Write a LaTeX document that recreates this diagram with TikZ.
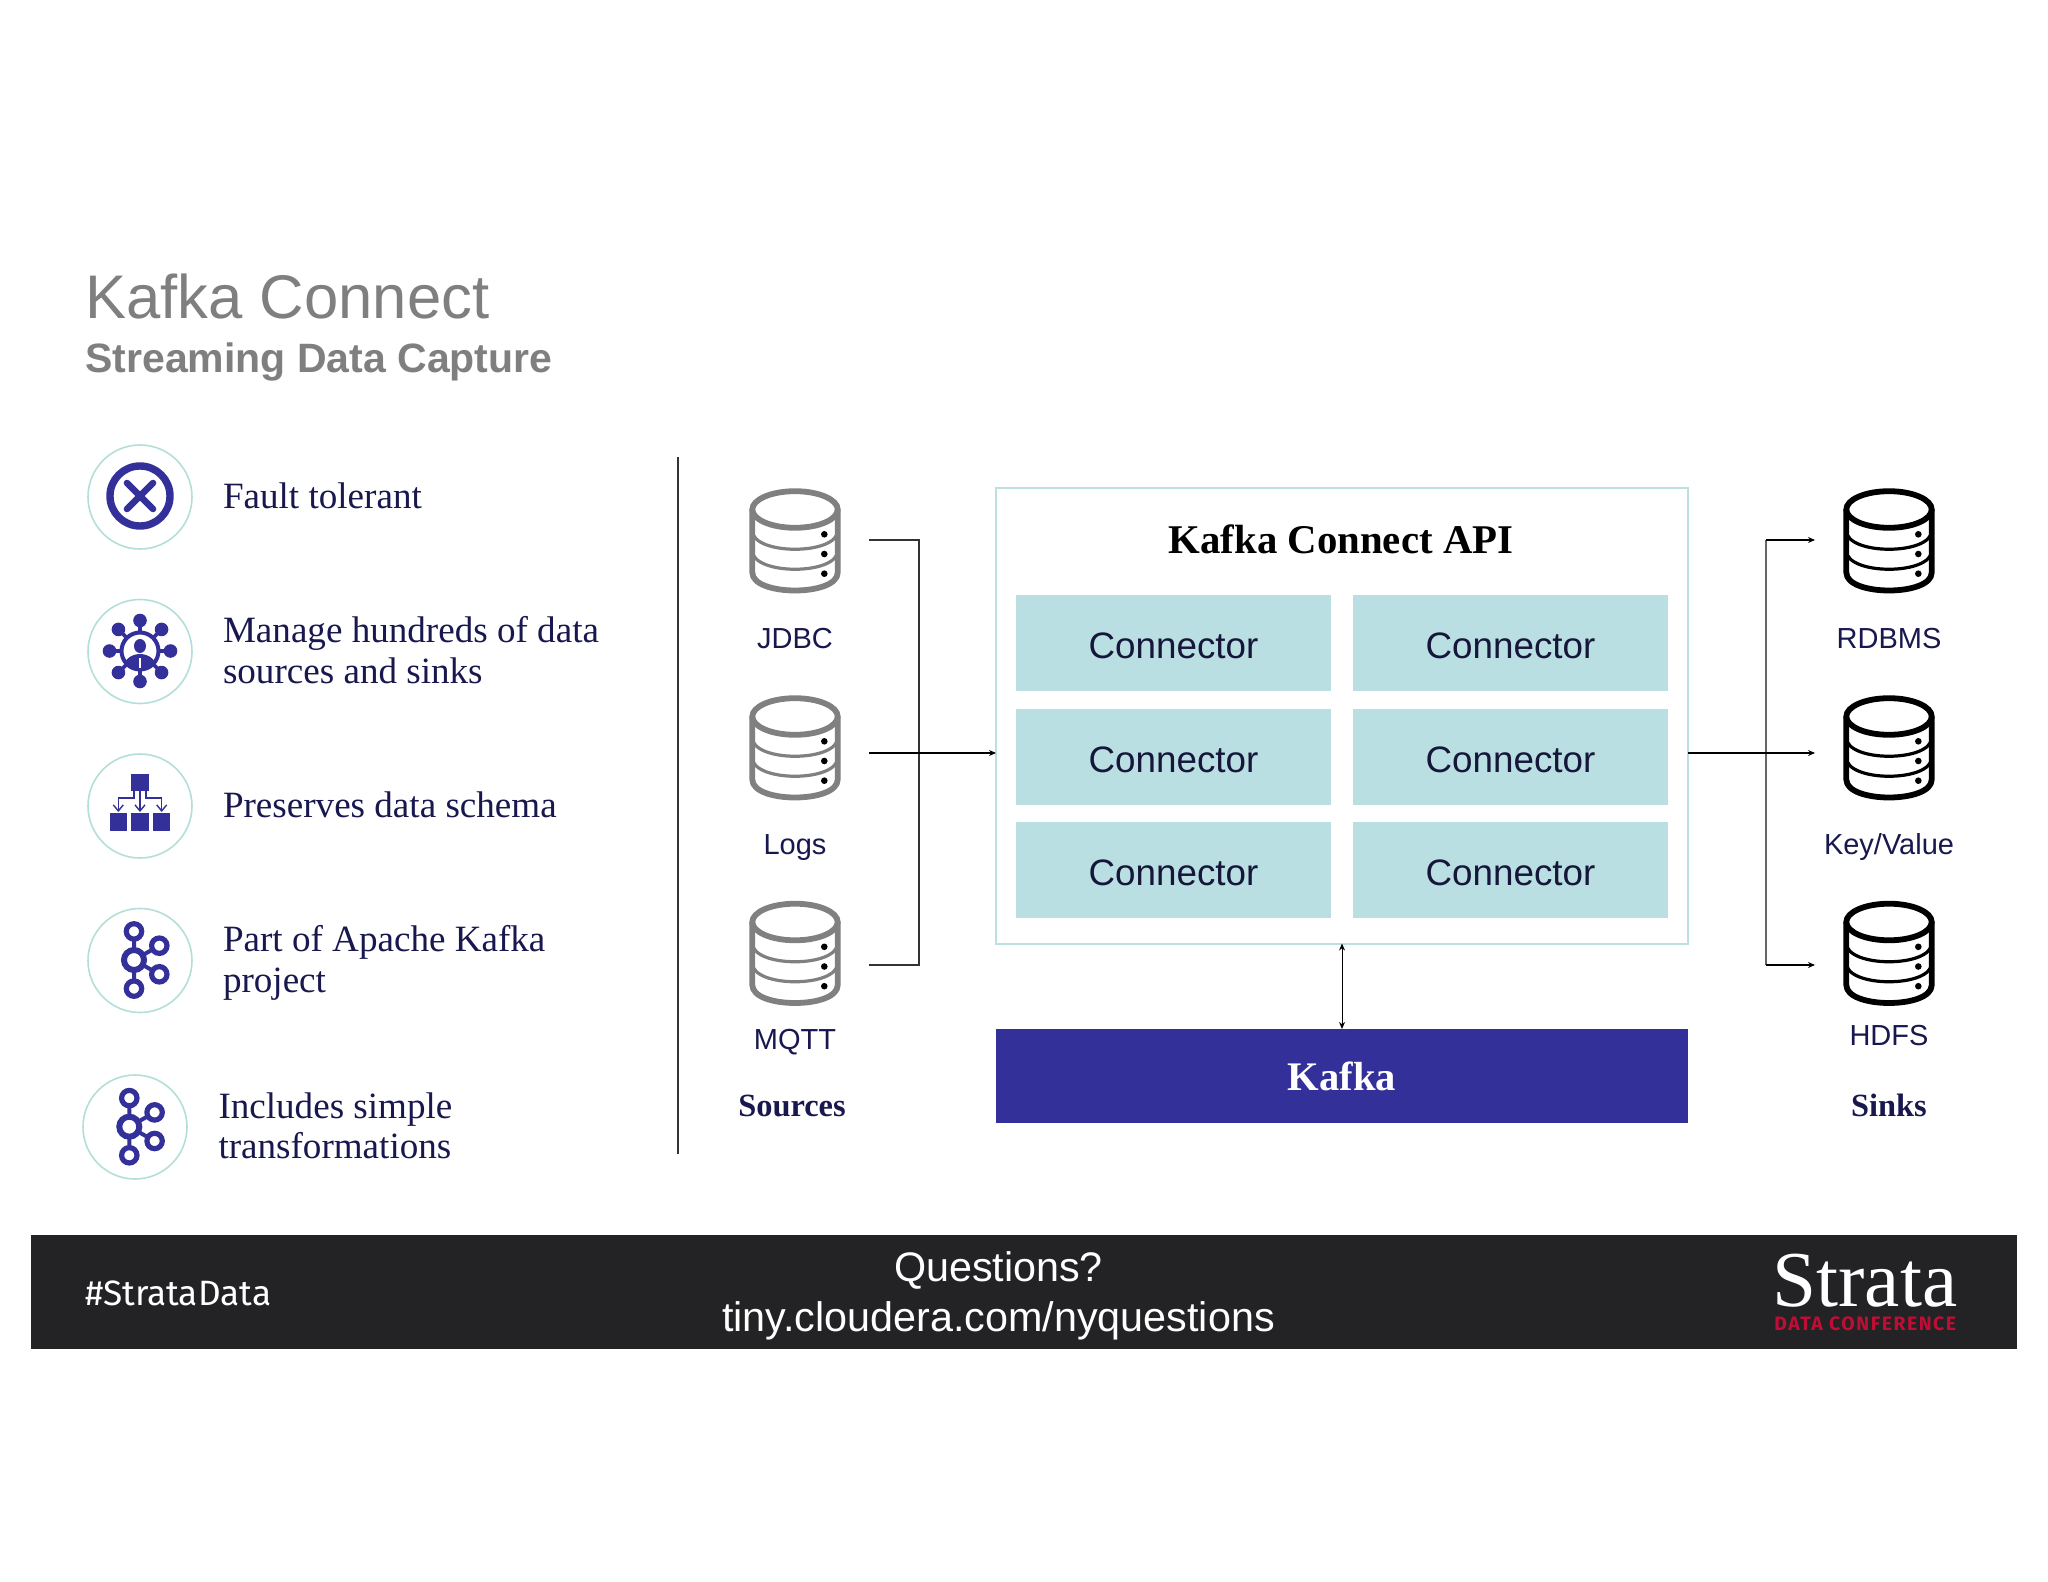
\documentclass[tikz,border=0pt]{standalone}
\usepackage{fontspec}
\setmainfont{Liberation Serif}
\setsansfont{Liberation Sans}
\newfontfamily\firafont{Fira Sans}
\usetikzlibrary{arrows.meta}
\definecolor{titlegray}{HTML}{7F7F7F}
\definecolor{ink}{HTML}{18184F}
\definecolor{cellink}{HTML}{16163A}
\definecolor{indigo}{HTML}{34309A}
\definecolor{teal}{HTML}{BADFE2}
\definecolor{tealline}{HTML}{B4DFD9}
\definecolor{apiline}{HTML}{BCE0E0}
\definecolor{dbgray}{HTML}{808080}
\definecolor{barblack}{HTML}{232325}
\definecolor{logored}{HTML}{C00D35}
\definecolor{wire}{HTML}{333333}
\definecolor{wiregray}{HTML}{666666}
\tikzset{
  x=.5pt,y=-.5pt,
  feature/.style={anchor=west,inner sep=0,outer sep=0,align=left,text=ink,font=\rmfamily\fontsize{18.55}{20.3}\selectfont},
  badge/.style={circle,draw=tealline,line width=.8pt,minimum size=52pt,inner sep=0,outer sep=0,fill=white},
  cell/.style={fill=teal,minimum width=157.5pt,minimum height=48pt,inner sep=0,outer sep=0,text height=15.2pt,text depth=0pt,text=cellink,font=\sffamily\fontsize{18.4}{20}\selectfont},
  dblabel/.style={inner sep=0,outer sep=0,text=ink,font=\sffamily\fontsize{14.5}{16}\selectfont},
  grouplabel/.style={inner sep=0,outer sep=0,text=ink,font=\rmfamily\bfseries\fontsize{16.2}{18}\selectfont},
  wireline/.style={draw=wire,line width=.55pt},
  wirearrow/.style={draw=black,line width=.55pt,-{Stealth[length=3.5pt,width=3pt]}},
  pics/db/.style={code={
    \draw[#1,line width=2.9pt] (-42.7,0) ellipse [x radius=42.7,y radius=18.3];
    \draw[#1,line width=2.9pt,line join=round] (-85.4,0) -- (-85.4,63) .. controls (-85.4,87) and (0,87) .. (0,63) -- (0,0);
    \draw[#1,line width=1.6pt] (-85.4,21) .. controls (-85.4,46) and (0,46) .. (0,21);
    \draw[#1,line width=1.6pt] (-85.4,41) .. controls (-85.4,66) and (0,66) .. (0,41);
    \fill[black] (-13.4,24.8) circle (3.3) (-13.4,44.5) circle (3.3) (-13.4,64.2) circle (3.3);
  }},
  pics/kafkaicon/.style={code={
    \draw[indigo,line width=3pt] (0,0) circle (10);
    \draw[indigo,line width=2.6pt] (0,-28.6) circle (7.7) (0,28.6) circle (7.7) (25.3,-14.3) circle (7.7) (25.3,14.3) circle (7.7);
    \draw[indigo,line width=2pt] (0,-20.7) -- (0,-12) (0,20.7) -- (0,12) (9.5,-5.4) -- (18.5,-10.4) (9.5,5.4) -- (18.5,10.4);
  }}
}
\begin{document}
\begin{tikzpicture}
\useasboundingbox[fill=white] (0,0) rectangle (2048,1582);

% Heading
\node[anchor=base west,inner sep=0,text=titlegray,font=\sffamily\fontsize{30.8}{32}\selectfont] (title) at (85,319) {Kafka Connect};
\node[anchor=base west,inner sep=0,text=titlegray,font=\sffamily\bfseries\fontsize{20.5}{23}\selectfont] (subtitle) at (85,372.5) {Streaming Data Capture};

% Feature list
\node[badge] (b1) at (140,497) {};
\node[badge] (b2) at (140,651.5) {};
\node[badge] (b3) at (140,806) {};
\node[badge] (b4) at (140,960.5) {};
\node[badge] (b5) at (135,1127) {};
\node[feature] (f1) at (223,496) {Fault tolerant};
\node[feature] (f2) at (223,650) {Manage hundreds of data\\sources and sinks};
\node[feature] (f3) at (223,805) {Preserves data schema};
\node[feature] (f4) at (223,963) {Part of Apache Kafka\\project};
\node[feature] (f5) at (218.5,1126) {Includes simple\\transformations};

% Icon 1
\draw[indigo,line width=3.7pt] (140,496) circle (30);
\draw[indigo,line width=3.3pt,line cap=round] (127,483) -- (153,509) (153,483) -- (127,509);

% Icon 2
\begin{scope}[shift={(140,651)}]
  \draw[indigo,line width=2pt] (0,0) circle (18.5);
  \foreach \a in {0,45,...,315} {
    \draw[indigo,line width=1.8pt] (\a:18) -- (\a:30.5);
    \fill[indigo] (\a:30.5) circle (6.8);
  }
  \fill[indigo] (0,-5) ellipse [x radius=6,y radius=7];
  \begin{scope}
    \clip (0,0) circle (18);
    \fill[indigo] (0,20) ellipse [x radius=18,y radius=17];
  \end{scope}
  \draw[white,line width=.8pt] (0,7) -- (0,17);
\end{scope}

% Icon 3
\fill[indigo] (131.3,774) rectangle (148.7,791.3);
\fill[indigo] (109.7,813.3) rectangle (127,830.7);
\fill[indigo] (131.3,813.3) rectangle (148.7,830.7);
\fill[indigo] (152.7,813.3) rectangle (170,830.7);
\draw[indigo,line width=.7pt,-{Straight Barb[length=3pt,width=5pt]}] (140,791) -- (140,812);
\draw[indigo,line width=.7pt,-{Straight Barb[length=3pt,width=5pt]}] (134,791) -- (134,798) -- (118.3,798) -- (118.3,812);
\draw[indigo,line width=.7pt,-{Straight Barb[length=3pt,width=5pt]}] (146,791) -- (146,798) -- (161.7,798) -- (161.7,812);

% Icons 4 and 5
\pic at (134,960) {kafkaicon};
\pic at (129.3,1126.7) {kafkaicon};

% Divider
\coordinate (divTop) at (678,457);
\coordinate (divBot) at (678,1154);
\draw[draw=wire,line width=.55pt] (divTop) -- (divBot);

% Databases
\pic at (837.7,509.5) {db=dbgray};
\pic at (837.7,716.5) {db=dbgray};
\pic at (837.7,922) {db=dbgray};
\pic at (1931.7,509.5) {db=black};
\pic at (1931.7,716.5) {db=black};
\pic at (1931.7,922) {db=black};

\node[dblabel] (jdbc) at (795,639) {JDBC};
\node[dblabel] (logs) at (795,847.5) {Logs};
\node[dblabel] (mqtt) at (795,1042) {MQTT};
\node[dblabel] (rdbms) at (1889,639) {RDBMS};
\node[dblabel] (kv) at (1889,847) {Key/Value};
\node[dblabel] (hdfs) at (1889,1036) {HDFS};
\node[grouplabel] (sources) at (792,1106) {Sources};
\node[grouplabel] (sinks) at (1889,1105) {Sinks};

% API box
\node[draw=apiline,line width=1pt,minimum width=346pt,minimum height=227.5pt,inner sep=0,outer sep=0] (api) at (1342,716) {};
\node[inner sep=0,text=black,font=\rmfamily\bfseries\fontsize{20.4}{23}\selectfont] (apititle) at (1341,539) {Kafka Connect API};
\node[cell] (c1) at (1173.5,643) {Connector};
\node[cell] (c2) at (1510.5,643) {Connector};
\node[cell] (c3) at (1173.5,757) {Connector};
\node[cell] (c4) at (1510.5,757) {Connector};
\node[cell] (c5) at (1173.5,870) {Connector};
\node[cell] (c6) at (1510.5,870) {Connector};
\node[fill=indigo,minimum width=346pt,minimum height=47pt,inner sep=0,outer sep=0,text=white,font=\rmfamily\bfseries\fontsize{20.3}{22}\selectfont] (kafka) at (1342,1076) {Kafka};

% Source connectors
\coordinate (jdbcOut) at (869,540);
\coordinate (logsOut) at (869,753);
\coordinate (mqttOut) at (869,965);
\coordinate (busL) at (919,540);
\coordinate (busLb) at (919,965);
\draw[wireline] (jdbcOut) -- (busL) -- (busLb) -- (mqttOut);
\draw[wirearrow] (logsOut) -- (logsOut -| api.west);

% Sink connectors
\coordinate (rdbmsIn) at (1815,540);
\coordinate (kvIn) at (1815,753);
\coordinate (hdfsIn) at (1815,965);
\coordinate (busR) at (1766,540);
\coordinate (busRb) at (1766,965);
\draw[draw=wiregray,line width=.55pt] (busR) -- (busRb);
\draw[wirearrow] (busR) -- (rdbmsIn);
\draw[wirearrow] (busRb) -- (hdfsIn);
\draw[wirearrow] (kvIn -| api.east) -- (kvIn);

% API to Kafka
\draw[draw=black,line width=.5pt,{Stealth[length=3.5pt,width=3pt]}-{Stealth[length=3.5pt,width=3pt]}] (api.south) -- (kafka.north);

% Footer
\node[fill=barblack,minimum width=993pt,minimum height=57pt,inner sep=0,outer sep=0] (bar) at (1024,1292) {};
\node[anchor=west,inner sep=0,text=white,font=\firafont\fontsize{17.6}{19}\selectfont] (tag) at (85,1293) {\#StrataData};
\node[inner sep=0,align=center,text=white,font=\sffamily\fontsize{20.65}{25}\selectfont] (q) at (998.5,1295.5) {Questions?\\tiny.cloudera.com/nyquestions};
\node[anchor=base west,inner sep=0,text=white,font=\rmfamily\fontsize{39.6}{42}\selectfont] (strata) at (1772,1306) {Strata};
\node[anchor=base west,inner sep=0,text=logored,font=\firafont\bfseries\fontsize{9.7}{10}\selectfont] (conf) at (1774,1330) {\addfontfeatures{LetterSpace=8}DATA CONFERENCE};
\end{tikzpicture}
\end{document}
